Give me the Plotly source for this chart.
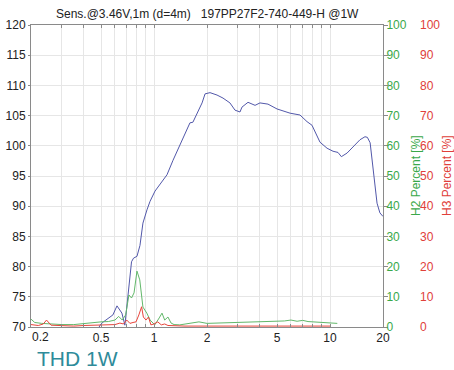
import plotly.graph_objects as go

# ---------------- data ----------------
spl_freq = [0.48, 0.493, 0.513, 0.562, 0.584, 0.616, 0.657, 0.683, 0.70, 0.72, 0.745,
            0.765, 0.80, 0.832, 0.865, 0.912, 0.949, 1.013, 1.081, 1.124, 1.185, 1.282,
            1.405, 1.539, 1.600, 1.663, 1.754, 1.875, 1.950, 2.080, 2.280, 2.466, 2.70,
            2.885, 3.08, 3.16, 3.42, 3.75, 4.0, 4.44, 5.0, 5.41, 5.93, 6.75, 7.40, 7.90,
            8.77, 9.62, 10.4, 11.1, 11.6, 12.5, 13.5, 14.8, 15.8, 16.3, 16.9, 17.6, 18.5,
            19.2, 20.0]
spl_db = [69.5, 70.3, 70.8, 71.7, 72.0, 73.5, 72.3, 70.3, 73.0, 77.0, 80.8,
          81.4, 81.7, 83.5, 87.2, 89.4, 90.8, 92.5, 93.7, 94.3, 95.2, 97.6,
          100.1, 102.6, 103.8, 103.9, 105.4, 107.1, 108.6, 108.8, 108.4, 107.9, 107.1,
          105.9, 105.6, 106.4, 107.2, 106.7, 107.1, 106.9, 106.1, 105.8, 105.4, 105.1, 104.0, 103.4,
          100.6, 99.6, 99.1, 98.9, 98.2, 98.8, 99.8, 101.0, 101.5, 101.4, 100.5, 95.5, 90.5,
          88.9, 88.3]

h2_freq = [0.2, 0.21, 0.23, 0.26, 0.3, 0.35, 0.4, 0.45, 0.5, 0.55, 0.6, 0.63, 0.66, 0.69,
           0.72, 0.745, 0.77, 0.80, 0.83, 0.865, 0.91, 0.95, 1.01, 1.07, 1.11, 1.15, 1.2,
           1.25, 1.3, 1.4, 1.6, 1.8, 2.0, 2.3, 2.6, 3.0, 3.5, 4.0, 4.5, 5.0, 5.5, 6.0, 6.5,
           7.0, 7.5, 8.0, 9.0, 10.0, 11.0]
h2_pct = [2.6, 1.5, 1.2, 1.0, 0.8, 0.8, 1.2, 1.5, 1.7, 1.8, 2.3, 3.5, 2.3, 4.0,
          10.6, 9.6, 11.3, 18.5, 15.6, 6.6, 4.6, 2.3, 0.7, 3.0, 4.6, 2.3, 3.3,
          1.3, 0.8, 0.7, 1.3, 1.7, 1.2, 1.3, 1.4, 1.5, 1.6, 1.7, 1.8, 1.8, 2.0, 2.3, 1.9,
          2.2, 1.8, 1.7, 1.6, 1.5, 1.2]

h3_freq = [0.2, 0.22, 0.235, 0.245, 0.26, 0.3, 0.35, 0.4, 0.45, 0.5, 0.55, 0.6, 0.64,
           0.67, 0.70, 0.73, 0.76, 0.79, 0.82, 0.85, 0.87, 0.90, 0.93, 0.96, 1.0, 1.05,
           1.1, 1.15, 1.2, 1.3, 1.5, 2.0, 3.0, 4.0, 5.0, 6.0, 7.0, 8.0, 9.0, 10.0]
h3_pct = [0.8, 0.5, 1.0, 2.3, 0.6, 0.4, 0.3, 0.5, 0.6, 0.7, 0.6, 0.8, 1.3,
          1.0, 2.3, 1.2, 1.5, 1.7, 4.0, 6.7, 3.3, 2.3, 3.3, 0.7, 1.0, 1.7,
          0.7, 1.0, 0.5, 0.4, 0.3, 0.3, 0.3, 0.3, 0.3, 0.3, 0.3, 0.3, 0.3, 0.3]

x_tickvals = [0.2, 0.5, 1, 2, 5, 10, 20]
x_ticktext = ["", "0.5", "1", "2", "5", "10", "20"]
first_tick_label = "0.2"
x_minorvals = [0.3, 0.4, 0.6, 0.7, 0.8, 0.9, 3, 4, 6, 7, 8, 9]
title_text = "Sens.@3.46V,1m (d=4m)\u00a0\u00a0\u00a0197PP27F2-740-449-H @1W"

# ---------------- figure ----------------
FONT = "Liberation Sans, Arial, sans-serif"
GREEN = "#3aa84a"
RED = "#e0403a"
GRID = "#e6e6e6"
AX = "#8a8a8a"

W, H = 454, 370
L, R, T, B = 31, 0, 25, 43
pw = W - L - R
ph = H - T - B
x_end = (383 - L) / pw
y3_pos = (419 - L) / pw

fig = go.Figure()
fig.add_trace(go.Scatter(x=spl_freq, y=spl_db, mode="lines",
                         line=dict(color="#5258aa", width=1), yaxis="y", showlegend=False))
fig.add_trace(go.Scatter(x=h2_freq, y=h2_pct, mode="lines",
                         line=dict(color="#62b86a", width=1), yaxis="y2", showlegend=False))
fig.add_trace(go.Scatter(x=h3_freq, y=h3_pct, mode="lines",
                         line=dict(color="#e8453c", width=1), yaxis="y3", showlegend=False))

fig.update_layout(
    width=W, height=H, autosize=False,
    margin=dict(l=L, r=R, t=T, b=B, pad=0, autoexpand=False),
    paper_bgcolor="white", plot_bgcolor="white",
    font=dict(family=FONT, size=12, color="#333333"),
    xaxis=dict(type="log", range=[-0.69897, 1.30103], domain=[0, x_end],
               tickvals=x_tickvals, ticktext=x_ticktext, automargin=False,
               showgrid=True, gridcolor=GRID, gridwidth=1,
               minor=dict(tickvals=x_minorvals, showgrid=True, gridcolor=GRID,
                          ticks="inside", ticklen=3, tickcolor=AX),
               ticks="inside", ticklen=3, tickcolor=AX,
               showline=True, linecolor=AX, linewidth=1, mirror="ticks",
               zeroline=False, tickfont=dict(size=12, color="#222222")),
    yaxis=dict(range=[70, 120], dtick=5, showgrid=True, gridcolor=GRID, automargin=False,
               ticks="outside", ticklen=2, tickcolor=AX,
               showline=True, linecolor=AX, linewidth=1,
               zeroline=False, tickfont=dict(size=12, color="#222222")),
    yaxis2=dict(overlaying="y", side="right", anchor="x", range=[0, 100], dtick=10,
                automargin=False,
                showgrid=False, zeroline=False, showline=True, linecolor=AX, linewidth=1,
                ticks="outside", ticklen=4, tickcolor=AX, ticklabelstandoff=-4,
                tickfont=dict(size=12, color=GREEN)),
    yaxis3=dict(overlaying="y", side="right", anchor="free", position=y3_pos,
                automargin=False,
                range=[0, 100], dtick=10, showgrid=False, zeroline=False,
                showline=False, ticks="", tickfont=dict(size=12, color=RED)),
    annotations=[
        dict(text=title_text, x=0.5 * x_end, xref="paper", xanchor="center",
             y=1 + 2 / ph, yref="paper",
             showarrow=False, font=dict(size=12, color="#222222"), yanchor="bottom"),
        dict(text=first_tick_label, x=0, xref="paper", xshift=9.5,
             xanchor="center", y=0, yref="paper", yanchor="top", yshift=-1,
             showarrow=False, font=dict(size=12, color="#222222")),
        dict(text="H2 Percent [%]", textangle=-90, xref="paper", yref="paper",
             x=(416 - L) / pw, xanchor="center", y=0.5, yanchor="middle", showarrow=False,
             font=dict(size=12, color=GREEN)),
        dict(text="H3 Percent [%]", textangle=-90, xref="paper", yref="paper",
             x=(447 - L) / pw, xanchor="center", y=0.5, yanchor="middle", showarrow=False,
             font=dict(size=12, color=RED)),
        dict(text="THD 1W", xref="paper", yref="paper",
             x=(77.5 - L) / pw, xanchor="center", y=-(358 - (H - B)) / ph, yanchor="middle",
             showarrow=False,
             font=dict(size=21, color="#2e8b9a", family=FONT)),
    ],
)

fig.write_html("out.html", config={"displayModeBar": False},
               post_script="document.body.style.margin='0';document.body.style.overflow='hidden';")
